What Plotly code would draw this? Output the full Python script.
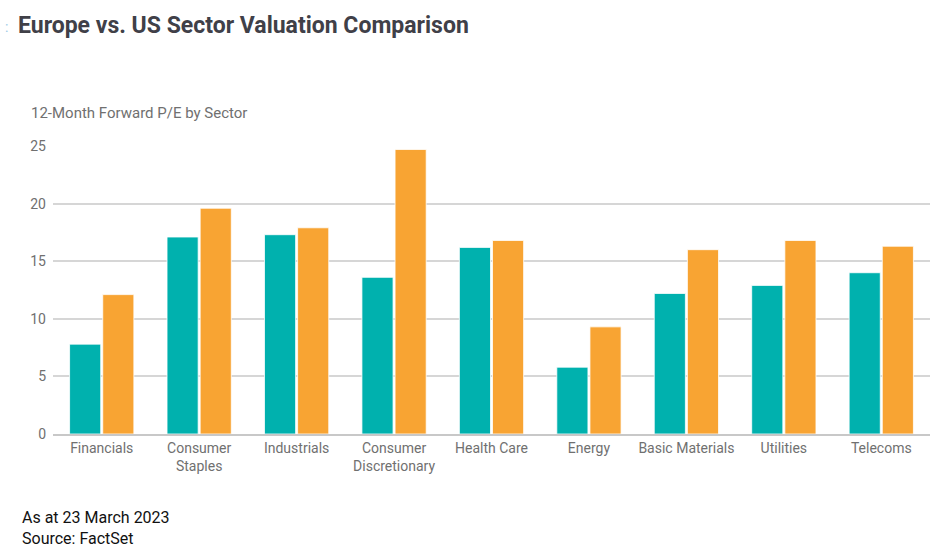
import plotly.graph_objects as go

sectors = ["Financials", "Consumer<br>Staples", "Industrials", "Consumer<br>Discretionary",
           "Health Care", "Energy", "Basic Materials", "Utilities", "Telecoms"]
europe_pe = [7.8, 17.1, 17.3, 13.6, 16.2, 5.8, 12.2, 12.9, 14.0]
us_pe = [12.1, 19.6, 17.9, 24.7, 16.8, 9.3, 16.0, 16.8, 16.3]
y_ticks = [0, 5, 10, 15, 20, 25]

fig = go.Figure()
fig.add_trace(go.Bar(x=sectors, y=europe_pe, name="Europe",
                     marker=dict(color="#00B1AE", line=dict(color="white", width=0.8))))
fig.add_trace(go.Bar(x=sectors, y=us_pe, name="US",
                     marker=dict(color="#F8A433", line=dict(color="white", width=0.8))))

PL, PB, PW, PH = 53, 434, 877, 288

def px(x):
    return (x - PL) / PW

def py(y):
    return (PB - y) / PH

fig.update_layout(
    width=941, height=560,
    margin=dict(l=53, r=11, t=146, b=126),
    paper_bgcolor="white", plot_bgcolor="white",
    showlegend=False,
    barmode="group", bargap=0.32, bargroupgap=0.06,
    font=dict(family="Roboto", color="#707070", size=14),
    xaxis=dict(showgrid=False, showline=True, linecolor="#c8c8c8", linewidth=1.5,
               ticks="", tickfont=dict(size=14, color="#707070")),
    yaxis=dict(range=[0, 25], tickvals=y_ticks, showgrid=True, gridcolor="#d6d6d6",
               gridwidth=1.5, zeroline=False, showline=False, ticks="",
               ticklabelstandoff=6, tickfont=dict(size=14, color="#707070")),
)

fig.add_annotation(text="<b>Europe vs. US Sector Valuation Comparison</b>", xref="paper", yref="paper",
                   x=px(16), y=py(25), xanchor="left", yanchor="middle", showarrow=False,
                   font=dict(family="Roboto", size=23, color="#404048"))
fig.add_annotation(text=":", xref="paper", yref="paper", x=px(3), y=py(27),
                   xanchor="left", yanchor="middle", showarrow=False,
                   font=dict(family="Roboto", size=14, color="#9cc9e6"))
fig.add_annotation(text="12-Month Forward P/E by Sector", xref="paper", yref="paper",
                   x=px(29), y=py(113), xanchor="left", yanchor="middle",
                   showarrow=False, font=dict(family="Roboto", size=15, color="#707070"))
fig.add_annotation(text="As at 23 March 2023<br>Source: FactSet", xref="paper", yref="paper",
                   x=px(20), y=py(528), xanchor="left", yanchor="middle",
                   align="left", showarrow=False,
                   font=dict(family="Roboto", size=16, color="#111111"))

fig.write_html("out.html", config={"displayModeBar": False},
               post_script="document.body.style.margin='0';")
